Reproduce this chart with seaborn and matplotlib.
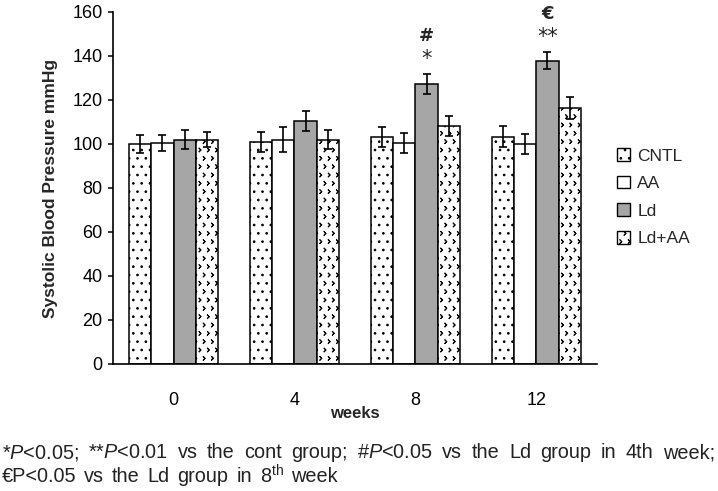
import numpy as np
import pandas as pd
import matplotlib
matplotlib.use('Agg')
import matplotlib.pyplot as plt
import matplotlib.hatch as mhatch
from matplotlib.path import Path as MPath
from matplotlib.patches import Patch
import seaborn as sns
import warnings
warnings.filterwarnings('ignore')

# Veriler
weeks = ['0', '4', '8', '12']
groups = ['CNTL', 'AA', 'Ld', 'Ld+AA']
cntl = [100.0, 101.0, 103.3, 103.3]
aa = [100.5, 102.0, 100.6, 100.0]
ld = [102.0, 110.5, 127.3, 137.9]
ld_aa = [102.0, 102.0, 108.2, 116.2]
cntl_err = [4.0, 4.5, 4.5, 4.7]
aa_err = [3.5, 5.5, 4.5, 4.5]
ld_err = [4.5, 4.5, 4.7, 4.0]
ld_aa_err = [3.5, 4.5, 4.5, 5.0]
# anlamlılık işaretleri (Ld grubu üzerinde)
marks_inner = {'8': '*', '12': '**'}
marks_outer = {'8': '#', '12': '€'}

footnote_1 = [r'*$\it{P}$<0.05;', r'**$\it{P}$<0.01', 'vs', 'the', 'cont', 'group;',
              r'#$\it{P}$<0.05', 'vs', 'the', 'Ld', 'group', 'in', '4th', 'week;']
footnote_2 = ['€P<0.05', 'vs', 'the', 'Ld', 'group', 'in', r'8$^{\rm th}$', 'week']


# Ld+AA çubukları için küçük ok (chevron) deseni
class ChevronHatch(mhatch.Shapes):
    size = 0.5
    filled = False

    def __init__(self, hatch, density):
        self.num_rows = hatch.count('c') * density
        self.shape_vertices = np.array([[-0.22, 0.45], [0.22, 0.0], [-0.22, -0.45]])
        self.shape_codes = np.array([MPath.MOVETO, MPath.LINETO, MPath.LINETO],
                                    dtype=MPath.code_type)
        super().__init__(hatch, density)


mhatch._hatch_types.append(ChevronHatch)

sns.set_theme(style='white')
plt.rcParams['font.family'] = ['Liberation Sans', 'DejaVu Sans']
plt.rcParams['mathtext.fontset'] = 'custom'
plt.rcParams['mathtext.rm'] = 'Liberation Sans'
plt.rcParams['mathtext.it'] = 'Liberation Sans:italic'
plt.rcParams['hatch.linewidth'] = 0.7

means = [cntl, aa, ld, ld_aa]
errs = [cntl_err, aa_err, ld_err, ld_aa_err]
rows = []
for g, m, e in zip(groups, means, errs):
    for w, v, s in zip(weeks, m, e):
        rows.append({'week': w, 'group': g, 'sbp': v, 'err': s})
df = pd.DataFrame(rows)

colors = {'CNTL': 'white', 'AA': 'white', 'Ld': '#a6a6a6', 'Ld+AA': 'white'}
hatches = {'CNTL': '..', 'AA': '', 'Ld': '', 'Ld+AA': 'cc'}

fig = plt.figure(figsize=(7.18, 4.91), dpi=100)
ax = fig.add_axes([0.1574, 0.2587, 0.674, 0.717])

sns.barplot(data=df, x='week', y='sbp', hue='group', order=weeks, hue_order=groups,
            palette=colors, edgecolor='black', linewidth=1.1, errorbar=None,
            width=0.73, gap=0, ax=ax, legend=False)

# desenler ve hata çubukları
for g, cont in zip(groups, ax.containers):
    sub = df[df['group'] == g].set_index('week').loc[weeks]
    for bar, w, v, e in zip(cont.patches, weeks, sub['sbp'], sub['err']):
        bar.set_hatch(hatches[g])
        xc = bar.get_x() + bar.get_width() / 2
        ax.errorbar(xc, v, yerr=e, color='black', capsize=2.6, elinewidth=1.2,
                    capthick=1.2, fmt='none', zorder=5)
        if g == 'Ld' and w in marks_inner:
            ax.text(xc, v + e + 2, marks_inner[w], ha='center', va='bottom',
                    fontsize=15, fontfamily='DejaVu Sans')
        if g == 'Ld' and w in marks_outer:
            ax.text(xc, v + e + 13, marks_outer[w], ha='center', va='bottom',
                    fontsize=13, fontweight='bold', fontfamily='DejaVu Sans')

ax.set_ylim(0, 160)
ax.set_yticks(np.arange(0, 161, 20))
ax.set_xlim(-0.5, 3.5)
sns.despine(ax=ax)
for sp in ['left', 'bottom']:
    ax.spines[sp].set_color('black')
    ax.spines[sp].set_linewidth(1.2)
ax.tick_params(axis='y', left=True, direction='out', length=3.5, width=1.1,
               labelsize=13, colors='black', pad=4)
ax.tick_params(axis='x', bottom=False, labelsize=13, pad=14, colors='black')
ax.set_ylabel('Systolic Blood Pressure mmHg', fontsize=12.5, fontweight='bold', labelpad=10)
ax.set_xlabel('weeks', fontsize=12, fontweight='bold', labelpad=-2)

handles = [Patch(facecolor=colors[g], edgecolor='black', linewidth=1.0,
                 hatch=hatches[g], label=g) for g in groups]
fig.legend(handles=handles, loc='upper left', bbox_to_anchor=(0.838, 0.73),
           frameon=False, fontsize=12.5, handlelength=0.75, handleheight=0.75,
           handletextpad=0.4, labelspacing=0.7)


# dipnot: kelime kelime yerleştirilip iki yana yaslanıyor
def place_words(words, y, x0, x1, size=14.3):
    renderer = fig.canvas.get_renderer()
    texts = [fig.text(0, y, w, fontsize=size, va='center', ha='left', color='#222222')
             for w in words]
    widths = [t.get_window_extent(renderer).width for t in texts]
    gap = (x1 - x0 - sum(widths)) / (len(words) - 1)
    x = x0
    for t, wd in zip(texts, widths):
        t.set_x(x / fig.bbox.width)
        x += wd + gap


fig.canvas.draw()
place_words(footnote_1, 1 - 453 / 491, 2, 715)
place_words(footnote_2, 1 - 476 / 491, 2, 338)

fig.savefig('out.png', dpi=100)
